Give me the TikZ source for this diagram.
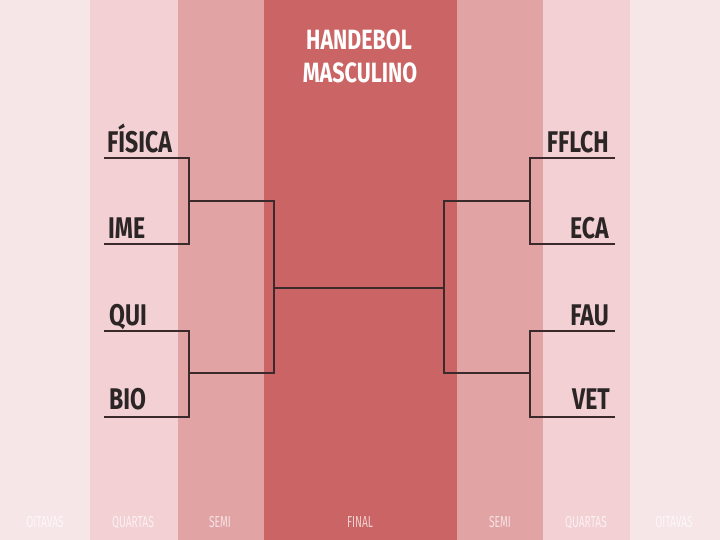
\documentclass[tikz,border=0pt]{standalone}
\usepackage{fontspec}
\newfontfamily\placar[FakeStretch=0.77]{Fira Sans}
\newfontfamily\fases[FakeStretch=0.64]{Fira Sans}
\usepackage{xcolor}
\usepackage{tikz}
\usetikzlibrary{positioning}

\definecolor{oitavasc}{HTML}{F7E6E8}
\definecolor{quartasc}{HTML}{F2D0D4}
\definecolor{semic}{HTML}{E2A3A5}
\definecolor{finalc}{HTML}{CB6464}
\definecolor{tinta}{HTML}{2B2526}
\definecolor{traco}{HTML}{3A2A2B}

\begin{document}
\begin{tikzpicture}[x=1bp,y=-1bp,
 time/.style={font=\placar\bfseries\fontsize{30}{30}\selectfont,text=tinta,inner sep=0pt},
 titulo/.style={font=\placar\bfseries\fontsize{28}{28}\selectfont,text=white,inner sep=0pt,anchor=base},
 rotulo/.style={font=\fases\fontsize{16}{16}\selectfont,text=white,opacity=0.7,inner sep=0pt,anchor=base},
 linha/.style={draw=traco,line width=1.1bp}]
\useasboundingbox (0,0) rectangle (720,540);
% colunas
\fill[oitavasc] (0,0) rectangle (90,540);
\fill[quartasc] (90,0) rectangle (178,540);
\fill[semic] (178,0) rectangle (264,540);
\fill[finalc] (264,0) rectangle (457,540);
\fill[semic] (457,0) rectangle (543,540);
\fill[quartasc] (543,0) rectangle (630,540);
\fill[oitavasc] (630,0) rectangle (720,540);
\node[titulo] (t1) at (359,50) {HANDEBOL};
\node[titulo] (t2) at (360,83) {MASCULINO};
% times
\node[time,anchor=base west] (fis) at (107,153) {FÍSICA};
\node[time,anchor=base west] (ime) at (108,239) {IME};
\node[time,anchor=base west] (qui) at (109,325) {QUI};
\node[time,anchor=base west] (bio) at (109,409) {BIO};
\node[time,anchor=base east] (fflch) at (609,153) {FFLCH};
\node[time,anchor=base east] (eca) at (609,239) {ECA};
\node[time,anchor=base east] (fau) at (609,325) {FAU};
\node[time,anchor=base east] (vet) at (610,409) {VET};
% chave
\coordinate (a1) at (104,158); \coordinate (a2) at (104,244);
\coordinate (a3) at (104,331); \coordinate (a4) at (104,417);
\coordinate (b1) at (615,158); \coordinate (b2) at (615,244);
\coordinate (b3) at (615,331); \coordinate (b4) at (615,417);
\coordinate (q1) at (189,201); \coordinate (q2) at (189,373);
\coordinate (q3) at (530,201); \coordinate (q4) at (530,373);
\coordinate (m1) at (274,288); \coordinate (m2) at (444,288);
\draw[linha] (a1) -| (q1); \draw[linha] (a2) -| (q1);
\draw[linha] (a3) -| (q2); \draw[linha] (a4) -| (q2);
\draw[linha] (b1) -| (q3); \draw[linha] (b2) -| (q3);
\draw[linha] (b3) -| (q4); \draw[linha] (b4) -| (q4);
\draw[linha] (q1) -| (m1); \draw[linha] (q2) -| (m1);
\draw[linha] (q3) -| (m2); \draw[linha] (q4) -| (m2);
\draw[linha] (m1) -- (m2);
% fases
\node[rotulo] (o1) at (45,527) {OITAVAS};
\node[rotulo] (r1) at (133,527) {QUARTAS};
\node[rotulo] (s1) at (220,527) {SEMI};
\node[rotulo] (fi) at (360,527) {FINAL};
\node[rotulo] (s2) at (500,527) {SEMI};
\node[rotulo] (r2) at (586,527) {QUARTAS};
\node[rotulo] (o2) at (674,527) {OITAVAS};
\end{tikzpicture}
\end{document}
